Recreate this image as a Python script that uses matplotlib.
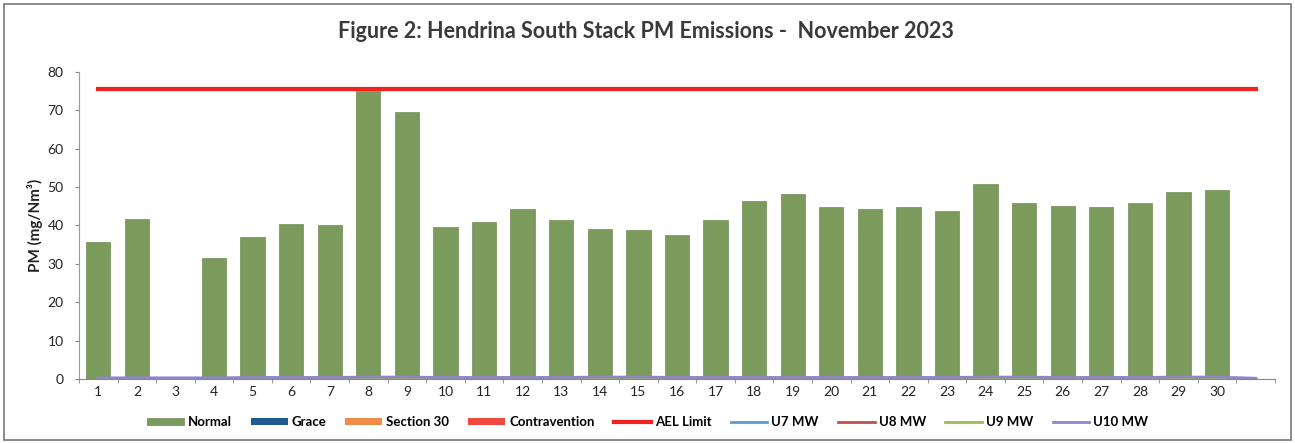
import matplotlib
matplotlib.use("Agg")
import matplotlib.pyplot as plt
import numpy as np
from matplotlib.patches import Rectangle

plt.rcParams['font.family'] = ['Lato', 'DejaVu Sans']

# days of November 2023 (31st slot is empty in the source chart)
days = [str(d) for d in range(1, 31)] + ['']
normal = [35.6, 41.8, 0, 31.6, 36.9, 40.3, 40.0, 75.0, 69.5, 39.5,
          40.8, 44.2, 41.3, 39.2, 38.7, 37.6, 41.3, 46.5, 48.1, 44.7,
          44.2, 44.7, 43.7, 50.7, 45.8, 45.2, 44.7, 45.8, 48.6, 49.2, 0]
grace = [0] * 31
section30 = [0] * 31
contravention = [0] * 31
ael_limit = [75.6] * 31
u7_mw = [0] * 31
u8_mw = [0] * 31
u9_mw = [0] * 31
u10_mw = [0.3, 0.3, 0.3, 0.3, 0.4, 0.4, 0.4, 0.5, 0.5, 0.4,
          0.4, 0.4, 0.4, 0.5, 0.5, 0.4, 0.4, 0.4, 0.4, 0.4,
          0.4, 0.4, 0.4, 0.5, 0.5, 0.4, 0.4, 0.4, 0.5, 0.5, 0.2]

x = np.arange(len(days))

fig = plt.figure(figsize=(12.95, 4.43), dpi=100)
ax = fig.add_axes([0.061, 0.1445, 0.9235, 0.693])

w = 0.63
b0 = np.array(normal)
bars = []
bars.append(ax.bar(x, normal, w, color='#7b9b5c', edgecolor='#6f8c52', linewidth=0.5, label='Normal'))
bars.append(ax.bar(x, grace, w, bottom=b0, color='#1f5b8e', label='Grace'))
b1 = b0 + np.array(grace)
bars.append(ax.bar(x, section30, w, bottom=b1, color='#ef8a47', label='Section 30'))
b2 = b1 + np.array(section30)
bars.append(ax.bar(x, contravention, w, bottom=b2, color='#f04a40', label='Contravention'))

lines = []
lines += ax.plot(x, ael_limit, color='#f2231e', lw=3, label='AEL Limit')
lines += ax.plot(x, u7_mw, color='#5b9bd5', lw=2, label='U7 MW')
lines += ax.plot(x, u8_mw, color='#c0504d', lw=2, label='U8 MW')
lines += ax.plot(x, u9_mw, color='#9bbb59', lw=2, label='U9 MW')
lines += ax.plot(x, u10_mw, color='#8f86c4', lw=2, label='U10 MW')

ax.set_xlim(-0.5, len(days) - 0.5)
ax.set_ylim(0, 80)
ax.set_yticks(range(0, 81, 10))
ax.set_xticks(x)
ax.set_xticklabels(days)
ax.set_xticks(np.arange(-0.5, len(days), 1), minor=True)
ax.tick_params(axis='x', which='major', length=0, labelsize=10, pad=5, colors='#222222')
ax.tick_params(axis='x', which='minor', length=3, color='#888888')
ax.tick_params(axis='y', length=3, labelsize=10, color='#888888', labelcolor='#222222', pad=8)

for s in ['top', 'right']:
    ax.spines[s].set_visible(False)
ax.spines['left'].set_color('#999999')
ax.spines['bottom'].set_color('#888888')

ax.set_ylabel('PM (mg/Nm³)', fontsize=11, fontweight='bold', color='#222222', labelpad=3)

fig.text(0.499, 0.93, 'Figure 2: Hendrina South Stack PM Emissions -  November 2023',
         ha='center', va='center', fontsize=15.5, fontweight='bold', color='#3a3a3a')

handles = bars + lines
ax.legend(handles, [h.get_label() for h in handles], loc='center',
          bbox_to_anchor=(0.5, 0.047), bbox_transform=fig.transFigure,
          ncol=9, frameon=False, handlelength=2.8, handleheight=0.4,
          columnspacing=1.45, handletextpad=0.3, prop={'weight': 'bold', 'size': 9.5})

fig.patches.append(Rectangle((0.003, 0.006), 0.994, 0.986, transform=fig.transFigure,
                             fill=False, edgecolor='#777777', linewidth=1.2))

fig.savefig('out.png', dpi=100)
